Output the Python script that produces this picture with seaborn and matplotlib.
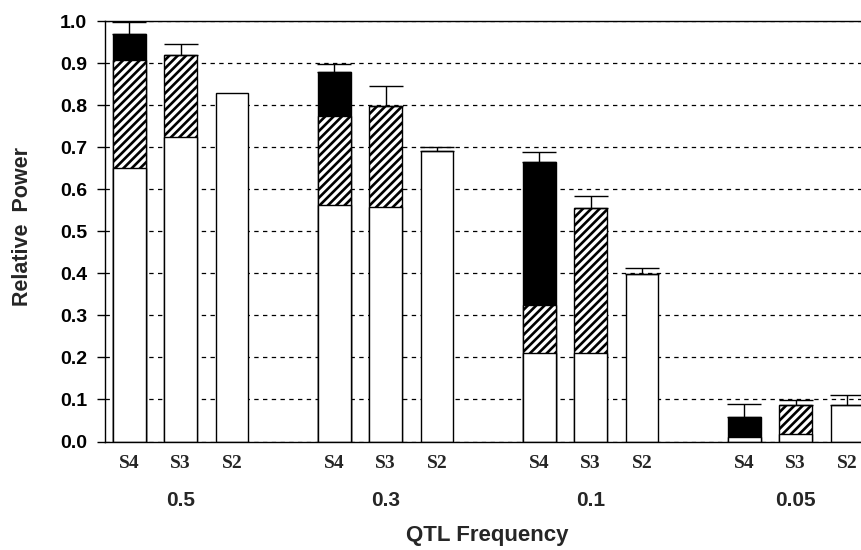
import numpy as np
import pandas as pd
import matplotlib
matplotlib.use("Agg")
import matplotlib.pyplot as plt
import seaborn as sns

# ---- data ----
groups = ["0.5", "0.3", "0.1", "0.05"]
schemes = ["S4", "S3", "S2"]
white_part = [0.650, 0.724, 0.828, 0.562, 0.558, 0.691, 0.210, 0.210, 0.398, 0.011, 0.018, 0.087]
hatched_part = [0.257, 0.195, 0.000, 0.213, 0.240, 0.000, 0.115, 0.346, 0.000, 0.000, 0.069, 0.000]
black_part = [0.063, 0.000, 0.000, 0.104, 0.000, 0.000, 0.339, 0.000, 0.000, 0.047, 0.000, 0.000]
error_up = [0.028, 0.027, 0.000, 0.019, 0.047, 0.010, 0.024, 0.028, 0.015, 0.032, 0.012, 0.023]
y_ticks = [0.0, 0.1, 0.2, 0.3, 0.4, 0.5, 0.6, 0.7, 0.8, 0.9, 1.0]

sns.set_style("ticks")
plt.rcParams["font.family"] = ["Liberation Sans", "DejaVu Sans"]
plt.rcParams["hatch.linewidth"] = 1.9
plt.rcParams["hatch.color"] = "black"

rows = []
for g, grp in enumerate(groups):
    for i, s in enumerate(schemes):
        k = g * len(schemes) + i
        rows.append(dict(pos=4 * g + i, group=grp, scheme=s,
                         white=white_part[k],
                         hatch_top=(white_part[k] + hatched_part[k]) if hatched_part[k] > 0 else 0.0,
                         total=(white_part[k] + hatched_part[k] + black_part[k]) if black_part[k] > 0 else 0.0,
                         top=white_part[k] + hatched_part[k] + black_part[k],
                         err=error_up[k]))
df = pd.DataFrame(rows)

fig = plt.figure(figsize=(8.61, 5.50), dpi=100)
ax = fig.add_axes([105 / 861, (550 - 441.5) / 550, 767.6 / 861, 420.5 / 550])

bw = 0.64
common = dict(x="pos", native_scale=True, width=bw, saturation=1,
              errorbar=None, edgecolor="black", linewidth=1.0, ax=ax, zorder=2)

sns.barplot(data=df, y="total", color="black", **common)
sns.barplot(data=df, y="hatch_top", color="white", hatch="////", **common)
sns.barplot(data=df, y="white", color="white", **common)

e = df[df.err > 0]
ax.errorbar(e.pos, e.top, yerr=[np.zeros(len(e)), e.err], fmt="none",
            ecolor="black", elinewidth=1.0, capsize=11.9, capthick=1.0, zorder=3)

ax.set_xlim(-0.478, 14.5)
ax.set_ylim(0, 1.0)
ax.set_yticks(y_ticks)
ax.set_yticklabels([f"{v:.1f}" for v in y_ticks], fontsize=14, fontweight="bold")
ax.tick_params(axis="y", direction="out", length=6, width=1.0, pad=7, colors="black")

ax.set_xticks(df.pos)
ax.set_xticklabels(df.scheme, fontsize=14, fontweight="bold",
                   family=["Liberation Serif", "DejaVu Serif"])
ax.tick_params(axis="x", length=0, pad=10)

ax.set_axisbelow(True)
ax.yaxis.grid(True, linestyle=(0, (3.5, 3.5)), color="black", linewidth=0.9)
ax.xaxis.grid(False)
for side in ["left", "top", "bottom"]:
    ax.spines[side].set_color("black")
    ax.spines[side].set_linewidth(1.0)
ax.spines["right"].set_visible(False)
ax.set_xlabel("")
ax.set_ylabel("")

trans = matplotlib.transforms.blended_transform_factory(ax.transData, ax.transAxes)
for g, grp in enumerate(groups):
    ax.text(4 * g + 1, -59 / 420.5, grp, transform=trans, ha="center", va="center",
            fontsize=15, fontweight="bold")

fig.text(487 / 861, 1 - 535 / 550, "QTL Frequency", ha="center", va="center",
         fontsize=16, fontweight="bold")
fig.text(23 / 861, 1 - 227 / 550, "Relative  Power", ha="center", va="center",
         rotation=90, fontsize=15.5, fontweight="bold")

fig.savefig("out.png", dpi=100)
